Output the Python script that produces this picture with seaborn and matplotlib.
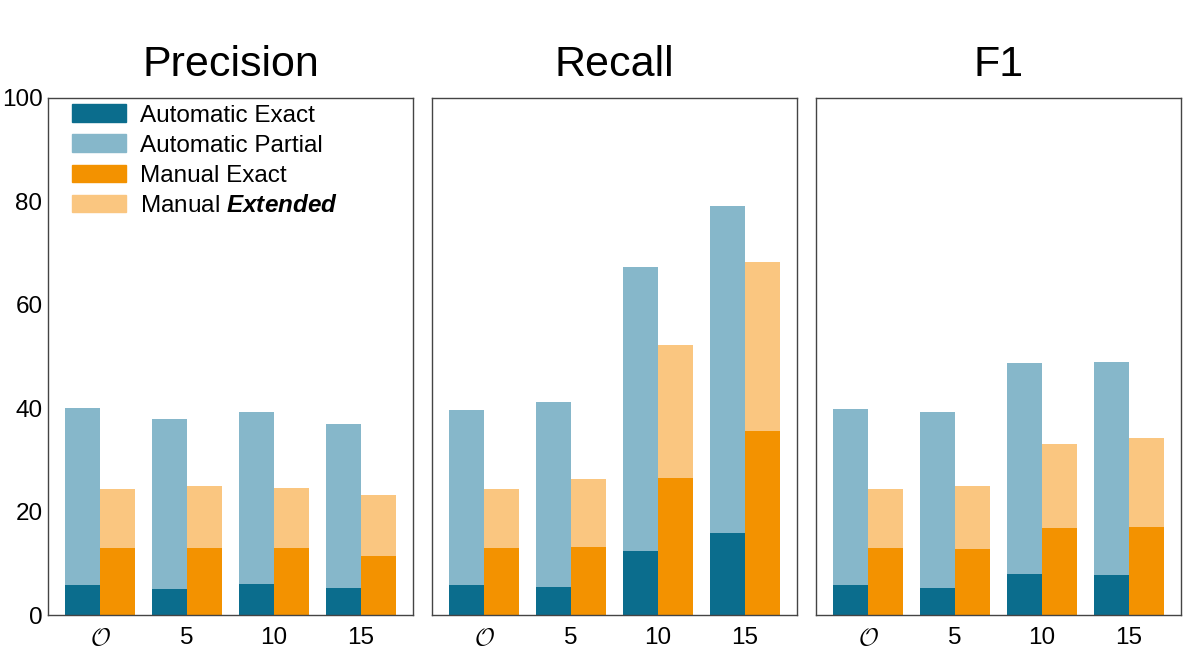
import pandas as pd
import seaborn as sns
import matplotlib.pyplot as plt
from matplotlib.patches import Patch

metrics = ['Precision', 'Recall', 'F1']
groups = [r'$\mathcal{O}$', '5', '10', '15']

auto_exact = {
    'Precision': [5.8, 5.0, 6.0, 5.2],
    'Recall': [5.8, 5.4, 12.4, 15.9],
    'F1': [5.8, 5.2, 7.9, 7.7],
}
auto_partial = {
    'Precision': [40.0, 37.9, 39.3, 36.9],
    'Recall': [39.7, 41.2, 67.3, 79.1],
    'F1': [39.8, 39.3, 48.7, 48.9],
}
manual_exact = {
    'Precision': [13.0, 13.0, 13.0, 11.4],
    'Recall': [13.0, 13.2, 26.5, 35.6],
    'F1': [13.0, 12.8, 16.8, 17.0],
}
manual_extended = {
    'Precision': [24.4, 25.0, 24.6, 23.2],
    'Recall': [24.4, 26.3, 52.2, 68.3],
    'F1': [24.4, 25.0, 33.1, 34.2],
}

c_auto_exact = '#0b6d8d'
c_auto_partial = '#86b7ca'
c_man_exact = '#f39200'
c_man_ext = '#fac680'

sns.set_style('white')
plt.rcParams['font.family'] = ['Liberation Sans', 'DejaVu Sans']
plt.rcParams['text.color'] = 'black'
plt.rcParams['xtick.labelcolor'] = 'black'
plt.rcParams['ytick.labelcolor'] = 'black'
plt.rcParams['mathtext.fontset'] = 'cm'
plt.rcParams['mathtext.bfit'] = 'Liberation Sans:italic:bold'


def long_frame(auto, manual, metric):
    rows = []
    for g, a, m in zip(groups, auto[metric], manual[metric]):
        rows.append({'group': g, 'method': 'Automatic', 'value': a})
        rows.append({'group': g, 'method': 'Manual', 'value': m})
    return pd.DataFrame(rows)


fig = plt.figure(figsize=(11.89, 6.55), dpi=100)
lefts = [48 / 1189, 432 / 1189, 816 / 1189]
axes = [fig.add_axes([l, 40 / 655, 365 / 1189, 517 / 655]) for l in lefts]

for ax, metric in zip(axes, metrics):
    outer = long_frame(auto_partial, manual_extended, metric)
    inner = long_frame(auto_exact, manual_exact, metric)
    sns.barplot(data=outer, x='group', y='value', hue='method', order=groups,
                palette=[c_auto_partial, c_man_ext], width=0.8, saturation=1,
                linewidth=0, legend=False, ax=ax, zorder=1)
    sns.barplot(data=inner, x='group', y='value', hue='method', order=groups,
                palette=[c_auto_exact, c_man_exact], width=0.8, saturation=1,
                linewidth=0, legend=False, ax=ax, zorder=2)
    ax.set_xlim(-0.6, 3.6)
    ax.set_ylim(0, 100)
    ax.set_yticks([0, 20, 40, 60, 80, 100])
    ax.set_xlabel('')
    ax.set_ylabel('')
    ax.tick_params(axis='y', direction='out', length=3, width=0.8,
                   color='#444444', labelsize=17.5, pad=1)
    ax.tick_params(axis='x', direction='out', length=3, width=0.8,
                   color='#444444', labelsize=17.5, pad=6)
    for s in ax.spines.values():
        s.set_color('#444444')
        s.set_linewidth(1.0)
    ax.set_title(metric, fontsize=31, pad=16)

for ax in axes[1:]:
    ax.set_yticklabels([])

handles = [
    Patch(color=c_auto_exact, label='Automatic Exact'),
    Patch(color=c_auto_partial, label='Automatic Partial'),
    Patch(color=c_man_exact, label='Manual Exact'),
    Patch(color=c_man_ext, label=r'Manual $\mathbfit{Extended}$'),
]
leg = axes[0].legend(handles=handles, loc='upper left', frameon=False,
                     bbox_to_anchor=(0.066, 0.988), borderaxespad=0,
                     borderpad=0, fontsize=17.5, handlelength=2.2,
                     handleheight=0.75, labelspacing=0.32, handletextpad=0.6)
leg.get_texts()[3].set_math_fontfamily('custom')

fig.savefig('out.png', dpi=100)
